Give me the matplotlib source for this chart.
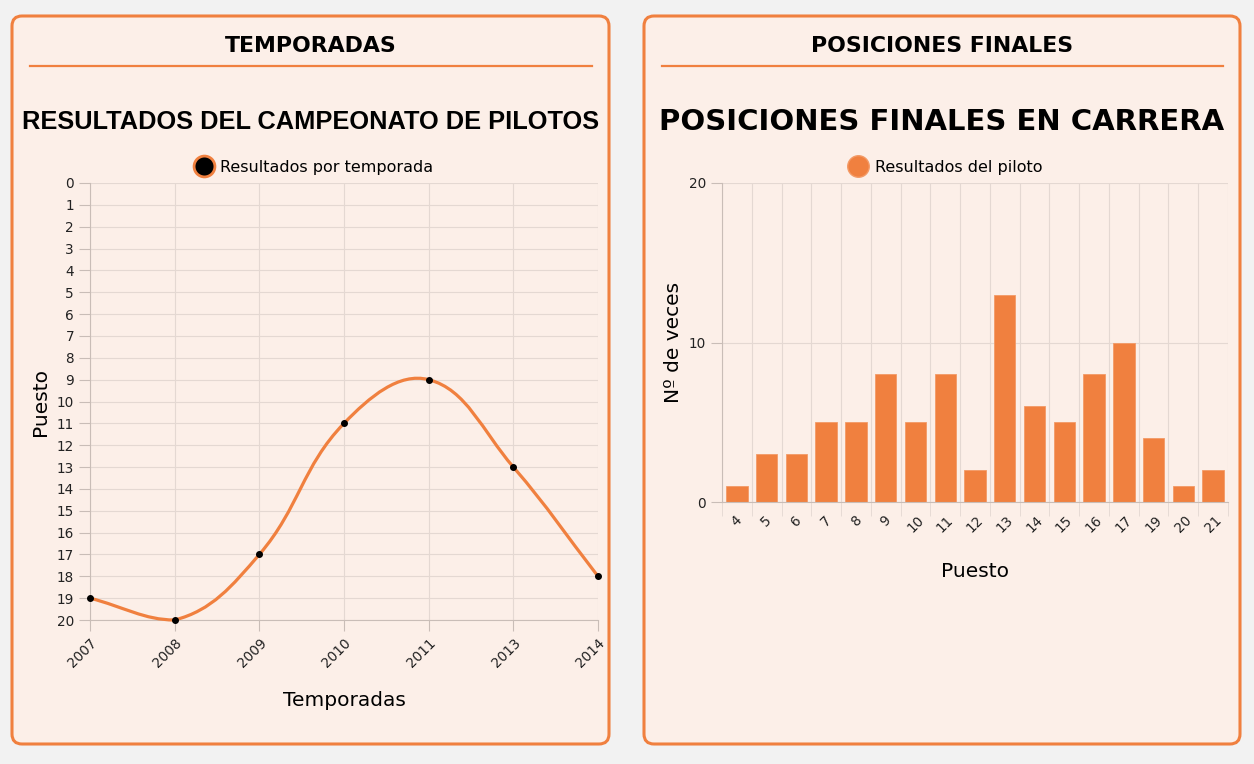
import numpy as np
import matplotlib
matplotlib.use("Agg")
import matplotlib.pyplot as plt
from matplotlib.patches import FancyBboxPatch, PathPatch
from matplotlib.path import Path
from matplotlib.lines import Line2D

# data
temporadas = ["2007", "2008", "2009", "2010", "2011", "2013", "2014"]
puesto_campeonato = [19, 20, 17, 11, 9, 13, 18]

puestos = ["4", "5", "6", "7", "8", "9", "10", "11", "12", "13", "14", "15",
           "16", "17", "19", "20", "21"]
veces = [1, 3, 3, 5, 5, 8, 5, 8, 2, 13, 6, 5, 8, 10, 4, 1, 2]

ORANGE = "#f0803f"
PANEL = "#fcefe8"
GRID = "#e4d8d2"
AXIS = "#c9bdb7"
TEXT_FONT = ["DejaVu Sans"]

W, H = 1254, 764
fig = plt.figure(figsize=(W / 100, H / 100), dpi=100, facecolor="#f2f2f2")


def px_axes(x0, y0, x1, y1):
    # pixel box (top-left origin) -> figure fraction axes
    ax = fig.add_axes([x0 / W, (H - y1) / H, (x1 - x0) / W, (y1 - y0) / H])
    ax.set_zorder(2)
    return ax


# panels
panels = [(12, 609, "TEMPORADAS", "RESULTADOS DEL CAMPEONATO DE PILOTOS",
           ["Liberation Sans", "DejaVu Sans"], 18.3),
          (644, 1240, "POSICIONES FINALES", "POSICIONES FINALES EN CARRERA",
           ["DejaVu Sans"], 21)]
for x0, x1, head, sub, sub_font, sub_size in panels:
    box = FancyBboxPatch((x0 / 100, (H - 744) / 100), (x1 - x0) / 100, (744 - 16) / 100,
                         boxstyle="round,pad=0,rounding_size=0.1",
                         transform=fig.dpi_scale_trans, facecolor=PANEL,
                         edgecolor=ORANGE, linewidth=2.2, zorder=-1)
    fig.patches.append(box)
    cx = (x0 + x1) / 2 / W
    fig.text(cx, 1 - 46 / H, head, ha="center", va="center", fontsize=15.8,
             fontweight="bold", family="DejaVu Sans")
    fig.add_artist(Line2D([(x0 + 18) / W, (x1 - 17) / W], [1 - 66 / H, 1 - 66 / H],
                          color=ORANGE, linewidth=1.6))
    fig.text(cx, 1 - 122 / H, sub, ha="center", va="center", fontsize=sub_size,
             fontweight="bold", family=sub_font)


def style_axes(ax):
    ax.set_facecolor("none")
    for s in ax.spines.values():
        s.set_visible(False)
    ax.spines["left"].set_visible(True)
    ax.spines["bottom"].set_visible(True)
    ax.spines["left"].set_color(AXIS)
    ax.spines["bottom"].set_color(AXIS)
    ax.grid(True, color=GRID, linewidth=0.8)
    ax.set_axisbelow(True)
    ax.tick_params(colors=AXIS, labelcolor="#222222", length=8, width=0.8, labelsize=9.8)
    for lab in ax.get_xticklabels() + ax.get_yticklabels():
        lab.set_family(TEXT_FONT)


# left chart: line
ax1 = px_axes(90, 183, 598, 620)
x = np.arange(len(temporadas))
ax1.set_xlim(0, len(temporadas) - 1)
ax1.set_ylim(20, 0)
ax1.set_yticks(range(0, 21))
ax1.set_xticks(x)
ax1.set_xticklabels(temporadas, rotation=45, ha="right", rotation_mode="anchor")
style_axes(ax1)

# smooth bezier line (tension 0.4), control points computed in pixel space
pts = ax1.transData.transform(np.column_stack([x, puesto_campeonato]))
t = 0.4
cp_prev = []
cp_next = []
for i in range(len(pts)):
    prev = pts[i - 1] if i > 0 else pts[i]
    nxt = pts[i + 1] if i < len(pts) - 1 else pts[i]
    cur = pts[i]
    d01 = np.hypot(*(cur - prev))
    d12 = np.hypot(*(nxt - cur))
    s01 = d01 / (d01 + d12)
    s12 = d12 / (d01 + d12)
    cp_prev.append(cur - t * s01 * (nxt - prev))
    cp_next.append(cur + t * s12 * (nxt - prev))
bb = ax1.bbox
verts = [pts[0]]
codes = [Path.MOVETO]
for i in range(len(pts) - 1):
    c1 = np.clip(cp_next[i], [bb.x0, bb.y0], [bb.x1, bb.y1])
    c2 = np.clip(cp_prev[i + 1], [bb.x0, bb.y0], [bb.x1, bb.y1])
    verts += [c1, c2, pts[i + 1]]
    codes += [Path.CURVE4] * 3
verts = ax1.transData.inverted().transform(np.array(verts))
ax1.add_patch(PathPatch(Path(verts, codes), facecolor="none", edgecolor=ORANGE,
                        linewidth=2.3, clip_on=False, zorder=3))
ax1.plot(x, puesto_campeonato, linestyle="none", marker="o", markersize=4,
         color="black", clip_on=False, zorder=4)
ax1.set_xlabel("Temporadas", fontsize=14.5, family=TEXT_FONT, labelpad=15)
ax1.set_ylabel("Puesto", fontsize=14.5, family=TEXT_FONT, labelpad=5)
h1 = Line2D([], [], linestyle="none", marker="o", markersize=15, markerfacecolor="black",
            markeredgecolor=ORANGE, markeredgewidth=2)
ax1.legend([h1], ["Resultados por temporada"], loc="lower center",
           bbox_to_anchor=(310.5 / W, 1 - 181 / H), bbox_transform=fig.transFigure,
           frameon=False, handletextpad=0.05, prop={"family": TEXT_FONT, "size": 11.5},
           borderaxespad=0)

# right chart: bars
ax2 = px_axes(722, 183, 1228, 502)
xb = np.arange(len(puestos))
ax2.bar(xb, veces, width=0.72, color=ORANGE, edgecolor="#f39a66", linewidth=0.6, zorder=2)
ax2.set_xlim(-0.5, len(puestos) - 0.5)
ax2.set_ylim(0, 20)
ax2.set_yticks([0, 10, 20])
ax2.set_xticks(xb)
ax2.set_xticklabels(puestos, rotation=45)
ax2.set_xticks(np.arange(-0.5, len(puestos)), minor=True)
style_axes(ax2)
ax2.grid(False, axis="x", which="major")
ax2.grid(True, axis="x", which="minor", color=GRID, linewidth=0.8)
ax2.tick_params(axis="x", which="major", length=0, pad=8)
ax2.tick_params(axis="x", which="minor", length=10, color=GRID)
ax2.set_xlabel("Puesto", fontsize=14.5, family=TEXT_FONT, labelpad=19)
ax2.set_ylabel("Nº de veces", fontsize=14.5, family=TEXT_FONT, labelpad=4)
h2 = Line2D([], [], linestyle="none", marker="o", markersize=15.5, markerfacecolor=ORANGE,
            markeredgecolor="#f39a66", markeredgewidth=1)
ax2.legend([h2], ["Resultados del piloto"], loc="lower center",
           bbox_to_anchor=(942 / W, 1 - 181 / H), bbox_transform=fig.transFigure,
           frameon=False, handletextpad=0.05, prop={"family": TEXT_FONT, "size": 11.5},
           borderaxespad=0)

fig.savefig("out.png", dpi=100, facecolor=fig.get_facecolor())
